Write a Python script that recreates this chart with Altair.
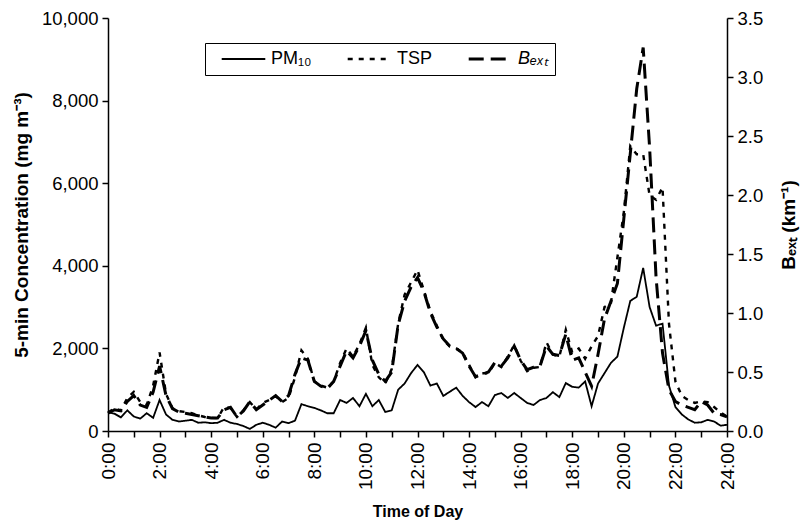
import altair as alt
import pandas as pd

# 15-minute grid, 0:00 .. 24:00
hours = [i / 4 for i in range(97)]

pm10 = [
    450, 420, 330, 500, 350, 300, 430, 320, 750, 400, 270, 230, 250, 270, 200, 210, 190, 200, 270, 200, 170, 120, 50, 150,
    200, 150, 80, 230, 190, 250, 650, 600, 560, 500, 430, 430, 750, 680, 800, 600, 900, 600, 750, 460, 500, 1000, 1150, 1400,
    1600, 1420, 1100, 1150, 850, 950, 1050, 850, 700, 580, 700, 600, 870, 920, 800, 920, 800, 680, 630, 750, 800, 940, 820, 1160,
    1070, 1050, 1200, 600, 1150, 1400, 1650, 1800, 2500, 3150, 3250, 3950, 3000, 2550, 2600, 1100, 580, 400, 280, 200, 210, 270, 230, 130, 150,
]
tsp = [
    450, 550, 500, 800, 950, 700, 630, 1100, 1900, 900, 550, 480, 460, 430, 380, 340, 320, 310, 580, 560, 340, 500, 700, 520,
    680, 750, 850, 700, 800, 1300, 1950, 1750, 1200, 1100, 1050, 1200, 1650, 2000, 1800, 2100, 2500, 1600, 1300, 1150, 1500, 2600, 3300, 3600,
    3900, 3400, 2900, 2550, 2200, 2050, 2000, 1900, 1600, 1300, 1400, 1400, 1650, 1550, 1800, 2080, 1700, 1450, 1530, 1550, 2150, 1850, 1800, 2450,
    1900, 2000, 1750, 2050, 2300, 3000, 3100, 4200, 5300, 6900, 6700, 6700, 5700, 5600, 5900, 2600, 1200, 850, 750, 680, 720, 700, 580, 450, 350,
]
bext = [
    0.15, 0.18, 0.17, 0.25, 0.30, 0.22, 0.20, 0.33, 0.55, 0.30, 0.19, 0.16, 0.15, 0.14, 0.13, 0.12, 0.11, 0.11, 0.18, 0.20, 0.12, 0.17, 0.25, 0.18,
    0.22, 0.26, 0.30, 0.25, 0.30, 0.48, 0.62, 0.60, 0.42, 0.38, 0.36, 0.42, 0.55, 0.68, 0.62, 0.72, 0.85, 0.60, 0.48, 0.42, 0.50, 0.90, 1.10, 1.22,
    1.30, 1.18, 1.00, 0.88, 0.78, 0.72, 0.70, 0.66, 0.55, 0.46, 0.48, 0.50, 0.58, 0.55, 0.62, 0.72, 0.60, 0.52, 0.54, 0.55, 0.72, 0.65, 0.64, 0.82,
    0.60, 0.62, 0.50, 0.38, 0.65, 0.95, 1.10, 1.25, 1.80, 2.35, 2.90, 3.25, 2.40, 1.30, 0.66, 0.35, 0.25, 0.22, 0.20, 0.18, 0.25, 0.22, 0.15, 0.14, 0.12,
]

series_names = ["PM\u2081\u2080", "TSP", "B\u2091\u2093\u209c"]
x_ticks = list(range(25))

conc = pd.concat([
    pd.DataFrame({"hour": hours, "value": pm10, "series": series_names[0]}),
    pd.DataFrame({"hour": hours, "value": tsp, "series": series_names[1]}),
])
bx = pd.DataFrame({"hour": hours, "value": bext, "series": series_names[2]})

FONT = "Liberation Sans"


def make_legend():
    return alt.Legend(
        title=None, orient="none", legendX=97, legendY=25, direction="horizontal",
        columns=3, symbolType="stroke", symbolSize=1900, symbolStrokeColor="black",
        labelFontSize=18, labelFont=FONT, labelColor="black", strokeColor="black",
        padding=7, symbolOffset=8, columnPadding=26, labelOffset=4, fillColor="white",
        clipHeight=18,
        labelFontStyle=alt.ExprRef("datum.label == 'TSP' || datum.label == 'PM\u2081\u2080' ? 'normal' : 'italic'"),
    )


dash = alt.StrokeDash(
    "series:N", sort=series_names,
    scale=alt.Scale(domain=series_names, range=[[1, 0], [5, 6], [15, 7]]),
    legend=make_legend(),
)
width_enc = alt.StrokeWidth(
    "series:N", sort=series_names,
    scale=alt.Scale(domain=series_names, range=[1.8, 3, 3]),
    legend=make_legend(),
)

x_enc = alt.X(
    "hour:Q",
    scale=alt.Scale(domain=[0, 24], nice=False),
    axis=alt.Axis(
        values=x_ticks, labelAngle=270, title="Time of Day",
        labelExpr="datum.value % 2 == 0 ? datum.value + ':00' : ''",
        grid=False, tickSize=6, labelPadding=5, titlePadding=14,
        labelFontSize=19, titleFontSize=16,
    ),
)

left = alt.Chart(conc).mark_line(color="black", strokeCap="butt").encode(
    x=x_enc,
    y=alt.Y(
        "value:Q",
        scale=alt.Scale(domain=[0, 10000], nice=False),
        axis=alt.Axis(
            values=[0, 2000, 4000, 6000, 8000, 10000], format=",d",
            title="5-min Concentration (mg m\u207b\u00b3)", grid=False,
            tickSize=6, labelPadding=4, titlePadding=10,
            labelFontSize=18.5, titleFontSize=19,
        ),
    ),
    strokeDash=dash,
    strokeWidth=width_enc,
)

right = alt.Chart(bx).mark_line(color="black", strokeCap="butt").encode(
    x=x_enc,
    y=alt.Y(
        "value:Q",
        scale=alt.Scale(domain=[0, 3.5], nice=False),
        axis=alt.Axis(
            orient="right", values=[0, 0.5, 1, 1.5, 2, 2.5, 3, 3.5], format=".1f",
            title="B\u2091\u2093\u209c (km\u207b\u00b9)", titleAngle=270, grid=False,
            tickSize=6, labelPadding=4, titlePadding=36,
            labelFontSize=18.5, titleFontSize=19,
        ),
    ),
    strokeDash=dash,
    strokeWidth=width_enc,
)

chart = (
    alt.layer(left, right)
    .resolve_scale(y="independent")
    .properties(
        width=619, height=413,
        autosize=alt.AutoSizeParams(type="none"),
        padding={"left": 108, "top": 18, "right": 74, "bottom": 96},
    )
    .configure_view(stroke=None)
    .configure_axis(
        domainColor="black", tickColor="black", labelColor="black", titleColor="black",
        labelFont=FONT, titleFont=FONT,
        titleFontWeight="bold", domainWidth=1.5, tickWidth=1.5,
    )
)

chart.save("out.html", embed_options={"renderer": "svg", "actions": False})
